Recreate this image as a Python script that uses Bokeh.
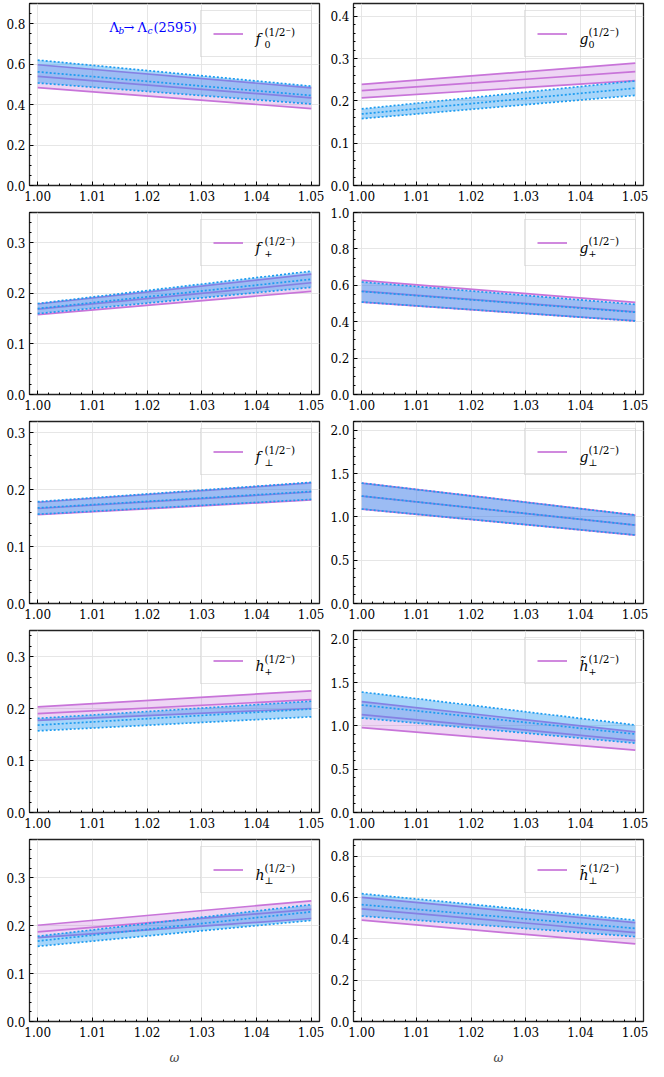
from bokeh.plotting import figure
from bokeh.layouts import gridplot
from bokeh.models import Range1d, FixedTicker, PrintfTickFormatter, Legend, LegendItem, Label
from bokeh.embed import file_html
from bokeh.resources import INLINE

omega = [1.00, 1.05]

# each band: [lower, center, upper], values at omega = 1.00 and 1.05
f0_violet = [[0.484, 0.380], [0.540, 0.433], [0.597, 0.483]]
f0_blue = [[0.507, 0.403], [0.562, 0.445], [0.620, 0.491]]

g0_violet = [[0.207, 0.248], [0.224, 0.269], [0.239, 0.289]]
g0_blue = [[0.158, 0.213], [0.169, 0.230], [0.181, 0.247]]

fp_violet = [[0.158, 0.204], [0.169, 0.221], [0.179, 0.238]]
fp_blue = [[0.160, 0.212], [0.170, 0.228], [0.180, 0.244]]

gp_violet = [[0.508, 0.404], [0.568, 0.454], [0.627, 0.506]]
gp_blue = [[0.508, 0.404], [0.566, 0.452], [0.618, 0.495]]

fperp_violet = [[0.156, 0.182], [0.167, 0.196], [0.178, 0.212]]
fperp_blue = [[0.157, 0.183], [0.168, 0.197], [0.179, 0.213]]

gperp_violet = [[1.09, 0.79], [1.24, 0.905], [1.39, 1.02]]
gperp_blue = [[1.09, 0.79], [1.24, 0.905], [1.39, 1.02]]

hp_violet = [[0.177, 0.200], [0.190, 0.217], [0.203, 0.234]]
hp_blue = [[0.157, 0.184], [0.168, 0.199], [0.181, 0.214]]

htp_violet = [[0.98, 0.72], [1.13, 0.83], [1.28, 0.93]]
htp_blue = [[1.09, 0.80], [1.24, 0.905], [1.39, 1.01]]

hperp_violet = [[0.175, 0.215], [0.187, 0.234], [0.201, 0.252]]
hperp_blue = [[0.157, 0.211], [0.168, 0.229], [0.178, 0.244]]

htperp_violet = [[0.490, 0.375], [0.545, 0.430], [0.600, 0.478]]
htperp_blue = [[0.510, 0.410], [0.565, 0.450], [0.618, 0.490]]

x_major = [1.00, 1.01, 1.02, 1.03, 1.04, 1.05]
main_letters = ["f", "g", "f", "g", "f", "g", "h", "h\u0303", "h", "h\u0303"]
sub_labels = ["0", "0", "+", "+", "\u22a5", "\u22a5", "+", "+", "\u22a5", "\u22a5"]
sup_label = "(1/2\u207b)"
y_tops = [0.9, 0.43, 0.36, 1.0, 0.32, 2.1, 0.35, 2.1, 0.38, 0.88]
y_steps = [0.2, 0.1, 0.1, 0.2, 0.1, 0.5, 0.1, 0.5, 0.1, 0.2]
violets = [f0_violet, g0_violet, fp_violet, gp_violet, fperp_violet,
           gperp_violet, hp_violet, htp_violet, hperp_violet, htperp_violet]
blues = [f0_blue, g0_blue, fp_blue, gp_blue, fperp_blue,
         gperp_blue, hp_blue, htp_blue, hperp_blue, htperp_blue]

VIOLET = "#c874d9"
BLUE = "#2196f3"
BLUE_LINE = "#1c9cf0"
SERIF = "DejaVu Serif"
X0, X1 = 0.9985, 1.0515


def y_ticks(top, step):
    ndiv = 5 if step in (0.1, 0.5) else 4
    majors, minors = [], []
    k = 0
    while k * step <= top + 1e-9:
        majors.append(round(k * step, 4))
        k += 1
    m = step / ndiv
    k = 0
    while k * m <= top + 1e-9:
        v = round(k * m, 5)
        if k % ndiv != 0:
            minors.append(v)
        k += 1
    return majors, minors


def make_panel(i):
    row, col = divmod(i, 2)
    top = y_tops[i]
    p = figure(frame_width=290, frame_height=182,
               x_range=Range1d(X0, X1), y_range=Range1d(0, top),
               output_backend="svg", toolbar_location=None,
               min_border_left=29,
               min_border_right=5,
               min_border_top=3 if row == 0 else 7,
               min_border_bottom=39 if row == 4 else 20)
    p.background_fill_color = "white"
    p.border_fill_color = "white"
    vio = violets[i]
    blu = blues[i]
    p.varea(x=omega, y1=vio[0], y2=vio[2], fill_color=VIOLET, fill_alpha=0.3)
    lines = []
    for arr in vio:
        lines.append(p.line(omega, arr, line_color=VIOLET, line_width=1.7))
    p.varea(x=omega, y1=blu[0], y2=blu[2], fill_color=BLUE, fill_alpha=0.4)
    for arr in blu:
        p.line(omega, arr, line_color=BLUE_LINE, line_width=1.7, line_dash="2 2")

    xminor = [round(1.0 + 0.002 * k, 3) for k in range(26) if k % 5 != 0]
    xt = FixedTicker(ticks=x_major, minor_ticks=xminor)
    ymaj, ymin = y_ticks(top, y_steps[i])
    yt = FixedTicker(ticks=ymaj, minor_ticks=ymin)
    p.xaxis.ticker = xt
    p.xgrid.ticker = xt
    p.yaxis.ticker = yt
    p.ygrid.ticker = yt
    p.xaxis.formatter = PrintfTickFormatter(format="%.2f")
    p.yaxis.formatter = PrintfTickFormatter(format="%.1f")
    for ax in p.axis:
        ax.axis_line_color = None
        ax.major_tick_in = 4
        ax.major_tick_out = 0
        ax.minor_tick_in = 2
        ax.minor_tick_out = 0
        ax.major_tick_line_color = "black"
        ax.minor_tick_line_color = "black"
        ax.major_label_text_font = SERIF
        ax.major_label_text_font_size = "12px"
        ax.major_label_text_color = "black"
    p.xaxis.major_label_standoff = 5
    p.yaxis.major_label_standoff = 4
    p.grid.grid_line_color = "#e3e3e3"
    p.grid.grid_line_width = 0.9
    p.outline_line_color = "#222222"
    p.outline_line_width = 1.3
    p.outline_line_alpha = 1.0

    if row == 4:
        p.xaxis.axis_label = "\u03c9"
        p.xaxis.axis_label_text_font = SERIF
        p.xaxis.axis_label_text_font_style = "italic"
        p.xaxis.axis_label_text_font_size = "12px"
        p.xaxis.axis_label_standoff = 11

    leg = Legend(items=[LegendItem(label=" ", renderers=[lines[1]])],
                 location="top_right", margin=7, padding=12, spacing=0,
                 glyph_width=30, glyph_height=21, label_width=48,
                 label_height=21, label_standoff=8,
                 border_line_color="#cccccc", border_line_width=1.2,
                 background_fill_alpha=0.0)
    p.add_layout(leg)

    p.add_layout(Label(x=X1, y=top, x_offset=-64, y_offset=-35,
                       text=main_letters[i], text_font=SERIF,
                       text_font_style="italic", text_font_size="14px",
                       text_color="black", text_align="left",
                       text_baseline="alphabetic"))
    p.add_layout(Label(x=X1, y=top, x_offset=-55, y_offset=-41,
                       text=sub_labels[i], text_font=SERIF,
                       text_font_size="9.5px", text_color="black",
                       text_align="left", text_baseline="alphabetic"))
    p.add_layout(Label(x=X1, y=top, x_offset=-55, y_offset=-28,
                       text=sup_label, text_font=SERIF,
                       text_font_size="10.5px", text_color="black",
                       text_align="left", text_baseline="alphabetic"))

    if i == 0:
        pieces = [("\u039b", "13px", "normal", -210, -24),
                  ("b", "9px", "italic", -201, -27),
                  ("\u2192", "13px", "normal", -196, -24),
                  ("\u039b", "13px", "normal", -182, -24),
                  ("c", "9px", "italic", -172, -27),
                  ("(2595)", "13px", "normal", -166, -24)]
        for txt, size, style, dx, dy in pieces:
            p.add_layout(Label(x=X1, y=top, x_offset=dx, y_offset=dy,
                               text=txt, text_font=SERIF,
                               text_font_style=style, text_font_size=size,
                               text_color="#0000ff", text_align="left",
                               text_baseline="alphabetic"))
    return p


panels = [make_panel(i) for i in range(10)]
grid = gridplot([[panels[2 * r], panels[2 * r + 1]] for r in range(5)],
                toolbar_location=None)

open("out.html", "w").write(file_html(grid, INLINE))
